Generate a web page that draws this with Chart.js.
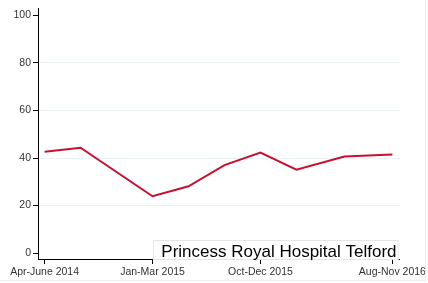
<!DOCTYPE html>
<html>
<head>
<meta charset="utf-8">
<script src="https://cdn.jsdelivr.net/npm/chart.js@4/dist/chart.umd.min.js"></script>
<style>
	html, body { margin: 0; padding: 0; background: #fff; }
	#wrap { width: 428px; height: 283px; position: relative; }
</style>
</head>
<body>
<div id="wrap"><canvas id="trend"></canvas></div>
<script>
// months since Apr 2014, one per survey period
var months = [0, 3, 9, 12, 15, 18, 21, 25, 29];
var values = [42.6, 44.3, 23.9, 28.1, 37.0, 42.3, 35.1, 40.6, 41.5];

var xTickPositions = [0, 9, 18, 29];
var xTickLabels = ['Apr-June 2014', 'Jan-Mar 2015', 'Oct-Dec 2015', 'Aug-Nov 2016'];
var yTicks = [0, 20, 40, 60, 80, 100];
var hospitalName = 'Princess Royal Hospital Telford';

var fontFamily = "'Liberation Sans', Arial, sans-serif";

function renderTrendChart() {
	var ctx = document.getElementById('trend').getContext('2d');
	var points = months.map(function (m, i) { return { x: m, y: values[i] }; });

	new Chart(ctx, {
		type: 'line',
		data: {
			datasets: [{
				data: points,
				borderColor: '#c8102e',
				borderWidth: 2,
				pointRadius: 0,
				tension: 0,
				fill: false
			}]
		},
		options: {
			responsive: true,
			maintainAspectRatio: false,
			animation: false,
			layout: { padding: { top: 7, right: 28, left: 0, bottom: 0 } },
			scales: {
				x: {
					type: 'linear',
					min: -0.55,
					max: 29.6,
					afterBuildTicks: function (scale) {
						scale.ticks = xTickPositions.map(function (v) { return { value: v }; });
					},
					afterFit: function (scale) { scale.height = 24; },
					grid: {
						drawOnChartArea: false,
						color: '#000',
						tickColor: '#000',
						tickLength: 5
					},
					border: { display: true, color: '#000', width: 1 },
					ticks: {
						autoSkip: false,
						maxRotation: 0,
						padding: 1.5,
						color: '#333',
						font: { family: fontFamily, size: 10.5 },
						callback: function (value) {
							var i = xTickPositions.indexOf(value);
							return i >= 0 ? xTickLabels[i] : '';
						}
					}
				},
				y: {
					min: -2.5,
					max: 103,
					afterBuildTicks: function (scale) {
						scale.ticks = yTicks.map(function (v) { return { value: v }; });
					},
					afterFit: function (scale) { scale.width = 38; },
					grid: {
						color: function (c) {
							if (c.tick && (c.tick.value === 0 || c.tick.value === 100)) {
								return 'rgba(0,0,0,0)';
							}
							return '#eaf2f2';
						},
						tickColor: '#000',
						tickLength: 5
					},
					border: { display: true, color: '#000', width: 1 },
					ticks: {
						padding: 2,
						color: '#333',
						font: { family: fontFamily, size: 10.5 }
					}
				}
			},
			plugins: {
				legend: { display: false },
				tooltip: { enabled: false }
			}
		},
		plugins: [{
			id: 'hospitalBox',
			afterDraw: function (chart) {
				var c = chart.ctx;
				var area = chart.chartArea;
				c.save();
				// faint outer frame of the graph region
				c.strokeStyle = '#ececec';
				c.lineWidth = 1;
				c.beginPath();
				c.moveTo(425.5, 0);
				c.lineTo(425.5, 280.5);
				c.lineTo(0, 280.5);
				c.stroke();

				// label box sitting on the x axis
				var right = area.right - 1;
				var left = 153;
				var top = 240;
				var bottom = area.bottom + 1;
				c.fillStyle = '#fff';
				c.fillRect(left, top, right - left, bottom - top);
				c.strokeStyle = '#e2e6e6';
				c.strokeRect(left + 0.5, top + 0.5, right - left - 1, bottom - top - 1);

				c.fillStyle = '#000';
				c.font = '17px ' + fontFamily;
				c.textAlign = 'right';
				c.textBaseline = 'alphabetic';
				c.fillText(hospitalName, right - 2, bottom - 3);
				c.restore();
			}
		}]
	});
}

renderTrendChart();
</script>
</body>
</html>
